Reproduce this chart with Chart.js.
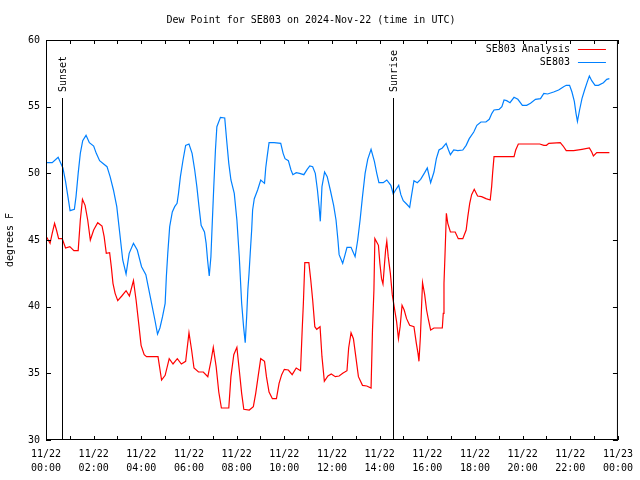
<!DOCTYPE html>
<html>
<head>
<meta charset="utf-8">
<script src="https://cdn.jsdelivr.net/npm/chart.js@4.4.0/dist/chart.umd.min.js"></script>
<style>
  html, body { margin: 0; padding: 0; background: #fff; }
  canvas { display: block; }
</style>
</head>
<body>
<canvas id="dewpoint" width="640" height="480"></canvas>
<script>
// hours after 11/22 00:00 UTC (deg F)
const analysisHours = [0.03, 0.17, 0.26, 0.36, 0.44, 0.53, 0.68, 0.82, 1.0, 1.17, 1.35, 1.44, 1.53, 1.64, 1.75, 1.86,
  2.0, 2.17, 2.35, 2.44, 2.53, 2.67, 2.74, 2.81, 2.9, 3.01, 3.18, 3.36, 3.5, 3.67, 3.78, 3.89, 3.99, 4.12, 4.22, 4.7,
  4.85, 5.0, 5.17, 5.33, 5.51, 5.68, 5.86, 6.0, 6.11, 6.21, 6.4, 6.6, 6.79, 6.93, 7.02, 7.14, 7.25, 7.36, 7.67, 7.76,
  7.88, 8.01, 8.11, 8.21, 8.3, 8.53, 8.7, 8.8, 8.9, 9.01, 9.17, 9.25, 9.36, 9.5, 9.67, 9.78, 9.89, 10.0, 10.17, 10.33,
  10.5, 10.68, 10.75, 10.8, 10.86, 11.03, 11.11, 11.19, 11.28, 11.36, 11.5, 11.58, 11.68, 11.83, 11.97, 12.14, 12.3,
  12.45, 12.63, 12.7, 12.8, 12.9, 13.0, 13.11, 13.28, 13.46, 13.64, 13.7, 13.76, 13.8, 13.95, 14.01, 14.08, 14.14,
  14.2, 14.25, 14.3, 14.36, 14.45, 14.53, 14.61, 14.71, 14.79, 14.86, 14.94, 15.03, 15.13, 15.26, 15.44, 15.54, 15.61,
  15.65, 15.71, 15.75, 15.8, 15.89, 15.97, 16.05, 16.14, 16.28, 16.63, 16.67, 16.7, 16.74, 16.78, 16.8, 16.86, 16.97,
  17.17, 17.3, 17.49, 17.63, 17.7, 17.78, 17.86, 17.97, 18.11, 18.28, 18.46, 18.64, 18.7, 18.74, 18.8, 19.64, 19.71,
  19.82, 20.72, 20.89, 21.0, 21.1, 21.58, 21.7, 21.83, 22.14, 22.49, 22.8, 22.9, 22.97, 23.11, 23.64];
const analysisDew = [45.2, 44.75, 45.5, 46.25, 45.75, 45.1, 45.1, 44.4, 44.5, 44.2, 44.2, 46.5, 48.05, 47.6, 46.5, 45.0,
  45.75, 46.3, 46.05, 45.25, 44.0, 44.05, 43.0, 41.75, 41.0, 40.45, 40.8, 41.2, 40.8, 41.95, 40.5, 38.75, 37.1, 36.4, 36.25, 36.25,
  34.5, 34.85, 36.1, 35.7, 36.1, 35.7, 35.9, 38.05, 36.75, 35.4, 35.1, 35.1, 34.75, 36.0, 36.95, 35.5, 33.6, 32.4, 32.4, 34.75,
  36.4, 36.95, 35.25, 33.5, 32.3, 32.25, 32.5, 33.5, 34.75, 36.1, 35.9, 34.75, 33.6, 33.1, 33.1, 34.25, 34.9, 35.3, 35.25, 34.9,
  35.4, 35.2, 38.25, 40.25, 43.3, 43.3, 42.0, 40.5, 38.5, 38.3, 38.5, 36.25, 34.4, 34.8, 34.95, 34.75, 34.8,
  35.0, 35.2, 36.9, 38.05, 37.6, 36.25, 34.75, 34.1, 34.05, 33.9, 38.25, 41.25, 45.1, 44.6, 43.25, 42.1, 41.7,
  43.1, 44.25, 44.9, 43.75, 42.5, 40.9, 40.0, 38.9, 37.6, 38.5, 40.1, 39.75, 39.1, 38.6, 38.5, 37.25, 36.5,
  35.9, 37.75, 39.6, 41.8, 40.9, 39.75, 39.0, 38.25, 38.4, 38.4, 39.5, 41.75, 43.75, 45.9, 47.0, 46.25, 45.6,
  45.6, 45.1, 45.1, 45.75, 46.75, 47.75, 48.4, 48.8, 48.3, 48.25, 48.1, 48.0, 49.0, 50.0, 51.25, 51.25, 51.75,
  52.2, 52.2, 52.1, 52.1, 52.25, 52.3, 52.05, 51.7, 51.7, 51.8, 51.9, 51.6, 51.3, 51.55, 51.55];

const obsHours = [0.03, 0.26, 0.51, 0.61, 0.71, 0.82, 0.92, 1.01, 1.19, 1.26, 1.35, 1.44, 1.54, 1.68, 1.82, 2.0, 2.11,
  2.25, 2.42, 2.56, 2.69, 2.83, 2.97, 3.08, 3.22, 3.36, 3.49, 3.67, 3.83, 4.01, 4.19, 4.29, 4.43, 4.57, 4.68, 4.78,
  4.89, 5.0, 5.05, 5.11, 5.19, 5.3, 5.4, 5.5, 5.56, 5.64, 5.75, 5.86, 6.0, 6.13, 6.24, 6.33, 6.42, 6.51, 6.65, 6.72,
  6.78, 6.85, 6.92, 6.97, 7.04, 7.11, 7.17, 7.32, 7.5, 7.58, 7.67, 7.76, 7.9, 8.01, 8.11, 8.21, 8.29, 8.36, 8.42,
  8.47, 8.52, 8.57, 8.63, 8.67, 8.74, 8.88, 9.01, 9.17, 9.22, 9.28, 9.36, 9.57, 9.85, 9.95, 10.03, 10.17, 10.28,
  10.36, 10.5, 10.64, 10.82, 10.96, 11.07, 11.19, 11.3, 11.39, 11.46, 11.51, 11.58, 11.69, 11.8, 11.93, 12.07, 12.17,
  12.25, 12.3, 12.45, 12.55, 12.63, 12.8, 12.97, 13.08, 13.18, 13.28, 13.39, 13.5, 13.64, 13.78, 13.88, 13.97, 14.15,
  14.3, 14.47, 14.57, 14.67, 14.8, 14.89, 14.99, 15.13, 15.26, 15.33, 15.44, 15.58, 15.72, 15.89, 16.0, 16.14, 16.28,
  16.38, 16.49, 16.63, 16.79, 16.89, 16.97, 17.11, 17.28, 17.49, 17.63, 17.76, 17.95, 18.08, 18.25, 18.46, 18.6,
  18.71, 18.8, 19.01, 19.13, 19.22, 19.33, 19.47, 19.64, 19.8, 19.99, 20.17, 20.33, 20.54, 20.75, 20.89, 21.05, 21.3,
  21.51, 21.72, 21.83, 21.97, 22.07, 22.17, 22.24, 22.3, 22.39, 22.49, 22.6, 22.72, 22.8, 22.9, 23.04, 23.18, 23.39,
  23.53, 23.64];
const obsDew = [50.8, 50.8, 51.2, 50.8, 50.4, 49.4, 48.25, 47.2, 47.3, 48.25, 50.0, 51.5, 52.45, 52.85, 52.3, 52.05, 51.5,
  50.95, 50.7, 50.5, 49.75, 48.75, 47.5, 45.75, 43.5, 42.45, 44.0, 44.75, 44.25, 43.0, 42.4, 41.5, 40.25, 39.0, 37.95, 38.4,
  39.25, 40.25, 42.25, 44.0, 46.0, 47.1, 47.5, 47.75, 48.5, 49.75, 51.0, 52.1, 52.2, 51.5, 50.25, 49.0, 47.5, 46.1, 45.6, 44.75,
  43.5, 42.3, 43.75, 46.0, 49.0, 51.75, 53.5, 54.2, 54.15, 52.5, 50.75, 49.5, 48.5, 46.5, 43.75, 40.25, 38.5, 37.3, 39.25,
  41.25, 42.5, 44.0, 45.75, 47.25, 48.1, 48.75, 49.5, 49.25, 50.4, 51.25, 52.3, 52.3, 52.25, 51.5, 51.1, 50.95, 50.25,
  49.9, 50.05, 50.0, 49.9, 50.3, 50.55, 50.5, 50.0, 48.75, 47.5, 46.4, 49.0, 50.1, 49.75, 48.75, 47.6, 46.5,
  45.0, 43.9, 43.25, 43.9, 44.45, 44.45, 43.75, 45.0, 46.5, 48.25, 50.0, 51.05, 51.8, 50.9, 50.0, 49.3, 49.3,
  49.5, 49.1, 48.45, 48.75, 49.1, 48.4, 47.95, 47.7, 47.45, 48.25, 49.45, 49.3, 49.55, 50.05, 50.4, 49.3, 50.1,
  51.1, 51.75, 51.9, 52.25, 51.75, 51.4, 51.75, 51.7, 51.75, 52.1, 52.6, 53.1, 53.6, 53.85, 53.85, 54.05,
  54.5, 54.75, 54.8, 55.0, 55.5, 55.45, 55.3, 55.7, 55.55, 55.1, 55.1, 55.25, 55.55, 55.6, 56.0, 55.95, 56.1,
  56.25, 56.5, 56.6, 56.6, 56.1, 55.4, 54.5, 53.9, 54.75, 55.6, 56.25, 56.9, 57.3, 56.95, 56.6, 56.6, 56.8,
  57.05, 57.1];

const xTickDates = ["11/22", "11/22", "11/22", "11/22", "11/22", "11/22", "11/22", "11/22", "11/22", "11/22", "11/22", "11/22", "11/23"];
const xTickTimes = ["00:00", "02:00", "04:00", "06:00", "08:00", "10:00", "12:00", "14:00", "16:00", "18:00", "20:00", "22:00", "00:00"];

const sunEvents = ["Sunset", "Sunrise"];
const sunHours = [0.68, 14.57];

const FONT = "'DejaVu Sans Mono', 'Liberation Mono', monospace";
Chart.defaults.font.family = FONT;
Chart.defaults.font.size = 10;
Chart.defaults.color = "#000";

function toPoints(xs, ys) {
    return xs.map((x, i) => ({x: x, y: ys[i]}));
}

// gnuplot look: closed box, inward ticks, sun markers, legend inside top right
const gnuplotBits = {
    id: "gnuplotBits",
    afterDatasetsDraw(chart) {
        const ctx = chart.ctx;
        const a = chart.chartArea;
        const xs = chart.scales.x;
        const ys = chart.scales.y;
        ctx.save();
        ctx.strokeStyle = "#000";
        ctx.lineWidth = 1;

        // sunset / sunrise lines
        const markTop = a.top + 58;
        sunHours.forEach((h, i) => {
            const px = Math.round(xs.getPixelForValue(h)) + 0.5;
            ctx.beginPath();
            ctx.moveTo(px, a.bottom);
            ctx.lineTo(px, markTop);
            ctx.stroke();
            ctx.save();
            ctx.translate(px + 1, markTop - 6);
            ctx.rotate(-Math.PI / 2);
            ctx.fillStyle = "#000";
            ctx.font = "10px " + FONT;
            ctx.textAlign = "left";
            ctx.textBaseline = "middle";
            ctx.fillText(sunEvents[i], 0, 0);
            ctx.restore();
        });

        // frame
        ctx.strokeRect(a.left + 0.5, a.top + 0.5, a.right - a.left - 1, a.bottom - a.top - 1);

        // ticks
        ctx.beginPath();
        for (let h = 0; h <= 24; h++) {
            const px = Math.round(xs.getPixelForValue(h)) + 0.5;
            ctx.moveTo(px, a.bottom);
            ctx.lineTo(px, a.bottom - 4);
            ctx.moveTo(px, a.top);
            ctx.lineTo(px, a.top + 4);
        }
        for (let v = 30; v <= 60; v += 5) {
            const py = Math.round(ys.getPixelForValue(v)) + 0.5;
            ctx.moveTo(a.left, py);
            ctx.lineTo(a.left + 5, py);
            ctx.moveTo(a.right, py);
            ctx.lineTo(a.right - 5, py);
        }
        ctx.stroke();

        // legend
        ctx.font = "10px " + FONT;
        ctx.textAlign = "right";
        ctx.textBaseline = "middle";
        chart.data.datasets.forEach((ds, i) => {
            const py = a.top + 9.5 + i * 13;
            ctx.fillStyle = "#000";
            ctx.fillText(ds.label, a.right - 48, py);
            ctx.strokeStyle = ds.borderColor;
            ctx.beginPath();
            ctx.moveTo(a.right - 40, py);
            ctx.lineTo(a.right - 12, py);
            ctx.stroke();
        });
        ctx.restore();
    }
};

new Chart(document.getElementById("dewpoint"), {
    type: "line",
    data: {
        datasets: [
            {
                label: "SE803 Analysis",
                data: toPoints(analysisHours, analysisDew),
                borderColor: "rgb(255,0,0)",
                borderWidth: 1.2,
                pointRadius: 0,
                tension: 0
            },
            {
                label: "SE803",
                data: toPoints(obsHours, obsDew),
                borderColor: "rgb(0,128,255)",
                borderWidth: 1.2,
                pointRadius: 0,
                tension: 0
            }
        ]
    },
    options: {
        responsive: false,
        animation: false,
        devicePixelRatio: 1,
        events: [],
        layout: { padding: { left: 0, right: 18, top: 0, bottom: 0 } },
        plugins: {
            legend: { display: false },
            tooltip: { enabled: false },
            title: {
                display: true,
                text: "Dew Point for SE803 on 2024-Nov-22 (time in UTC)",
                font: { size: 10, weight: "normal", lineHeight: 1.2 },
                color: "#000",
                padding: { top: 14, bottom: 14 }
            }
        },
        scales: {
            x: {
                type: "linear",
                min: 0,
                max: 24,
                grid: { display: false, drawTicks: false },
                border: { display: false },
                ticks: {
                    stepSize: 2,
                    autoSkip: false,
                    maxRotation: 0,
                    padding: 7,
                    font: { size: 10, lineHeight: 1.4 },
                    callback: (v) => [xTickDates[v / 2], xTickTimes[v / 2]]
                },
                afterFit: (s) => { s.height = 40; }
            },
            y: {
                min: 30,
                max: 60,
                grid: { display: false, drawTicks: false },
                border: { display: false },
                ticks: { stepSize: 5, padding: 6 },
                title: {
                    display: true,
                    text: "degrees F",
                    font: { size: 10 },
                    padding: { top: 4, bottom: 0 }
                },
                afterFit: (s) => { s.width = 46; }
            }
        }
    },
    plugins: [gnuplotBits]
});
</script>
</body>
</html>
